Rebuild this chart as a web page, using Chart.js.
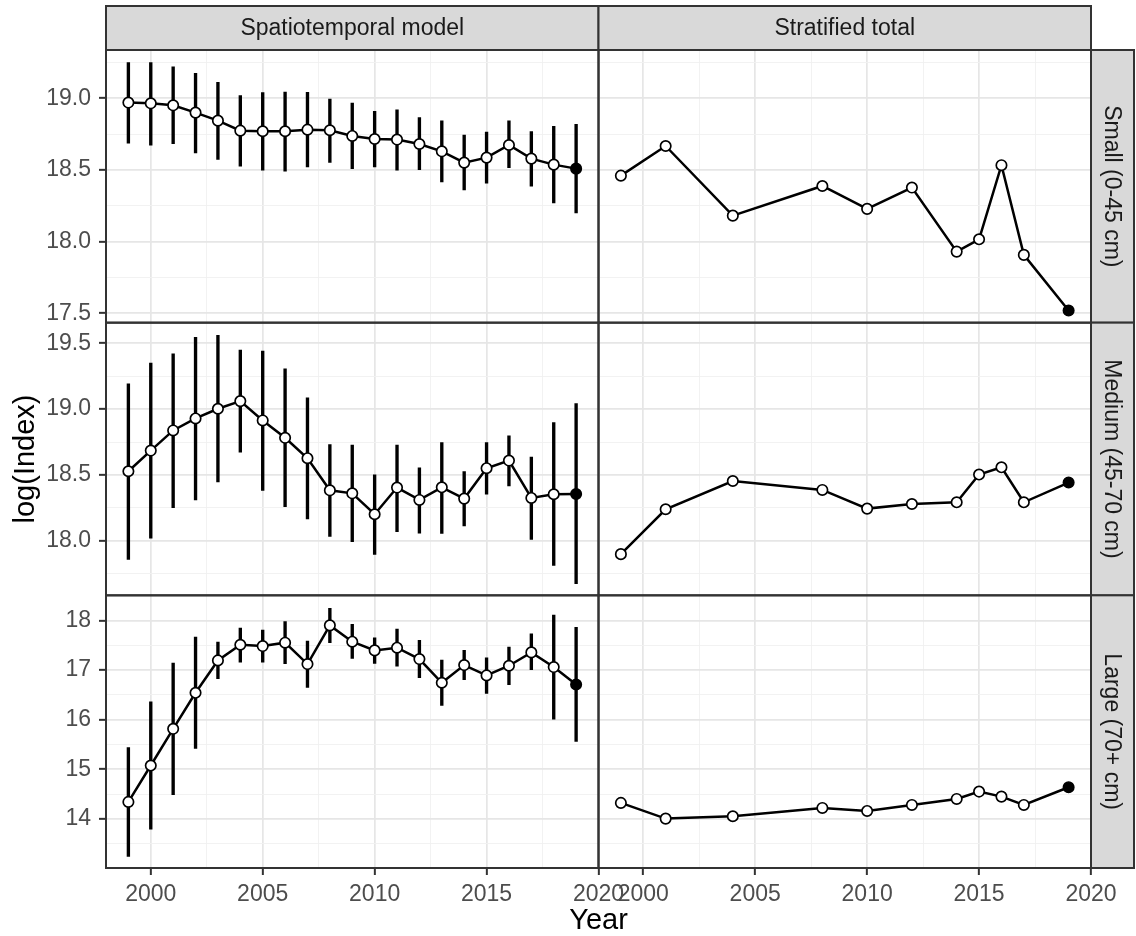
<!DOCTYPE html>
<html>
<head>
<meta charset="utf-8">
<title>log(Index) by size class</title>
<script src="https://cdn.jsdelivr.net/npm/chart.js@4.4.0/dist/chart.umd.min.js"></script>
<style>
body { margin: 0; background: #fff; }
#chart { display: block; }
</style>
</head>
<body>
<canvas id="chart" width="1136" height="936"></canvas>
<script>
//---------------- data -----------------
const stYears = [1999, 2000, 2001, 2002, 2003, 2004, 2005, 2006, 2007, 2008, 2009,
                 2010, 2011, 2012, 2013, 2014, 2015, 2016, 2017, 2018, 2019];
const totalYears = [1999, 2001, 2004, 2008, 2010, 2012, 2014, 2015, 2016, 2017, 2019];

// Small (0-45 cm)
const smallEst = [18.970, 18.965, 18.951, 18.900, 18.844, 18.774, 18.770, 18.770, 18.781, 18.777, 18.737,
                  18.716, 18.712, 18.681, 18.630, 18.551, 18.586, 18.674, 18.579, 18.537, 18.509];
const smallLo  = [18.686, 18.672, 18.684, 18.619, 18.574, 18.526, 18.498, 18.491, 18.521, 18.553, 18.509,
                  18.521, 18.498, 18.502, 18.416, 18.360, 18.407, 18.516, 18.386, 18.270, 18.200];
const smallHi  = [19.249, 19.249, 19.219, 19.174, 19.112, 19.019, 19.040, 19.044, 19.042, 18.995, 18.967,
                  18.909, 18.919, 18.865, 18.842, 18.744, 18.765, 18.842, 18.767, 18.805, 18.819];
const smallTotal = [18.460, 18.667, 18.181, 18.388, 18.228, 18.377, 17.930, 18.016, 18.533, 17.907, 17.519];

// Medium (45-70 cm)
const mediumEst = [18.528, 18.685, 18.838, 18.929, 19.003, 19.061, 18.914, 18.782, 18.627, 18.383, 18.360,
                   18.201, 18.404, 18.310, 18.406, 18.320, 18.551, 18.609, 18.325, 18.353, 18.355];
const mediumLo  = [17.858, 18.020, 18.251, 18.310, 18.447, 18.673, 18.383, 18.259, 18.165, 18.033, 17.992,
                   17.896, 18.069, 18.058, 18.056, 18.112, 18.353, 18.416, 18.010, 17.812, 17.673];
const mediumHi  = [19.193, 19.350, 19.421, 19.546, 19.561, 19.449, 19.442, 19.307, 19.086, 18.731, 18.726,
                   18.500, 18.726, 18.553, 18.746, 18.525, 18.746, 18.797, 18.635, 18.898, 19.043];
const mediumTotal = [17.898, 18.239, 18.454, 18.386, 18.244, 18.279, 18.292, 18.503, 18.558, 18.292, 18.442];

// Large (70+ cm)
const largeEst = [14.343, 15.076, 15.815, 16.541, 17.193, 17.509, 17.482, 17.550, 17.119, 17.899, 17.570,
                  17.395, 17.449, 17.220, 16.743, 17.099, 16.891, 17.086, 17.355, 17.059, 16.709];
const largeLo  = [13.247, 13.792, 14.491, 15.419, 16.824, 17.160, 17.160, 17.126, 16.649, 17.550, 17.234,
                  17.133, 17.079, 16.844, 16.286, 16.803, 16.528, 16.703, 17.005, 16.010, 15.560];
const largeHi  = [15.439, 16.360, 17.139, 17.664, 17.563, 17.845, 17.805, 17.973, 17.583, 18.242, 17.919,
                  17.650, 17.825, 17.597, 17.200, 17.395, 17.247, 17.462, 17.731, 18.108, 17.859];
const largeTotal = [14.323, 14.007, 14.054, 14.222, 14.161, 14.282, 14.403, 14.551, 14.450, 14.282, 14.639];

//---------------- ticks / labels -----------------
const yearTicks = [2000, 2005, 2010, 2015, 2020];
const yearMinor = [2002.5, 2007.5, 2012.5, 2017.5];
const smallTicks = [17.5, 18.0, 18.5, 19.0];
const smallMinor = [17.75, 18.25, 18.75, 19.25];
const mediumTicks = [18.0, 18.5, 19.0, 19.5];
const mediumMinor = [17.75, 18.25, 18.75, 19.25];
const largeTicks = [14, 15, 16, 17, 18];
const largeMinor = [13.5, 14.5, 15.5, 16.5, 17.5];

const colLabels = ['Spatiotemporal model', 'Stratified total'];
const rowLabels = ['Small (0-45 cm)', 'Medium (45-70 cm)', 'Large (70+ cm)'];

const FONT = '"Liberation Sans", Arial, Helvetica, sans-serif';
const tickFont = { family: FONT, size: 23 };

function isIn(list, ctx) {
    return !!(ctx.tick && list.indexOf(ctx.tick.value) >= 0);
}

function gridOpts(major) {
    return {
        color: function(ctx) { return isIn(major, ctx) ? '#e6e6e6' : '#f0f0f0'; },
        lineWidth: function(ctx) { return isIn(major, ctx) ? 1.7 : 0.9; },
        tickLength: 7,
        tickWidth: 2,
        tickColor: function(ctx) { return isIn(major, ctx) ? '#333333' : 'rgba(0,0,0,0)'; },
        offset: false
    };
}

function xAxis(weight) {
    return {
        type: 'linear', position: 'bottom', stack: 'cols', stackWeight: 1, weight: weight,
        min: 1998, max: 2020, offset: false,
        afterBuildTicks: function(scale) {
            scale.ticks = yearTicks.concat(yearMinor).sort(function(a, b) { return a - b; })
                .map(function(v) { return { value: v }; });
        },
        afterFit: function(scale) { scale.height = 68; },
        ticks: {
            autoSkip: false, maxRotation: 0, padding: 6, color: '#4d4d4d', font: tickFont,
            callback: function(v) { return yearTicks.indexOf(v) >= 0 ? String(v) : ''; }
        },
        grid: gridOpts(yearTicks),
        border: { display: false }
    };
}

function yAxis(weight, min, max, major, minor, digits) {
    return {
        type: 'linear', position: 'left', stack: 'rows', stackWeight: 1, weight: weight,
        min: min, max: max,
        afterBuildTicks: function(scale) {
            scale.ticks = major.concat(minor).sort(function(a, b) { return a - b; })
                .map(function(v) { return { value: v }; });
        },
        afterFit: function(scale) { scale.width = 106; },
        ticks: {
            autoSkip: false, padding: 8, color: '#4d4d4d', font: tickFont,
            callback: function(v) { return major.indexOf(v) >= 0 ? v.toFixed(digits) : ''; }
        },
        grid: gridOpts(major),
        border: { display: false }
    };
}

function lineSet(years, values, xId, yId) {
    return {
        type: 'line',
        data: years.map(function(yr, i) { return { x: yr, y: values[i] }; }),
        xAxisID: xId, yAxisID: yId,
        borderColor: '#000', borderWidth: 2.5, tension: 0, fill: false,
        pointRadius: 5.2, pointBorderWidth: 1.7, pointBorderColor: '#000',
        pointBackgroundColor: function(ctx) {
            return ctx.dataIndex === values.length - 1 ? '#000' : '#fff';
        },
        order: 0
    };
}

function rangeSet(years, lo, hi, yId) {
    return {
        type: 'bar',
        data: years.map(function(yr, i) { return { x: yr, y: [lo[i], hi[i]] }; }),
        xAxisID: 'xST', yAxisID: yId,
        backgroundColor: '#000', borderWidth: 0,
        barThickness: 2.7, grouped: false,
        order: 1
    };
}

//-------- strips, panel borders, axis titles ---------
const facetPlugin = {
    id: 'facets',
    afterDraw: function(chart) {
        const ctx = chart.ctx;
        const cols = [chart.scales.xST, chart.scales.xSR];
        const rows = [chart.scales.ySmall, chart.scales.yMed, chart.scales.yLarge];
        const area = chart.chartArea;
        ctx.save();
        ctx.strokeStyle = '#333333';
        ctx.lineWidth = 2;
        cols.forEach(function(c) {
            rows.forEach(function(r) {
                ctx.strokeRect(c.left, r.top, c.right - c.left, r.bottom - r.top);
            });
        });
        // top strips
        ctx.font = '23px ' + FONT;
        ctx.textAlign = 'center';
        ctx.textBaseline = 'middle';
        const stripTop = 6;
        cols.forEach(function(c, i) {
            ctx.fillStyle = '#d9d9d9';
            ctx.fillRect(c.left, stripTop, c.right - c.left, area.top - stripTop);
            ctx.strokeRect(c.left, stripTop, c.right - c.left, area.top - stripTop);
            ctx.fillStyle = '#1a1a1a';
            ctx.fillText(colLabels[i], (c.left + c.right) / 2, (stripTop + area.top) / 2 + 1);
        });
        // right strips
        const stripRight = chart.width - 2;
        rows.forEach(function(r, i) {
            ctx.fillStyle = '#d9d9d9';
            ctx.fillRect(area.right, r.top, stripRight - area.right, r.bottom - r.top);
            ctx.strokeRect(area.right, r.top, stripRight - area.right, r.bottom - r.top);
            ctx.save();
            ctx.translate((area.right + stripRight) / 2 - 1, (r.top + r.bottom) / 2);
            ctx.rotate(Math.PI / 2);
            ctx.fillStyle = '#1a1a1a';
            ctx.fillText(rowLabels[i], 0, 0);
            ctx.restore();
        });
        // axis titles
        ctx.fillStyle = '#000';
        ctx.font = '29px ' + FONT;
        ctx.fillText('Year', (area.left + area.right) / 2, 921);
        ctx.save();
        ctx.translate(26, (area.top + area.bottom) / 2);
        ctx.rotate(-Math.PI / 2);
        ctx.fillText('log(Index)', 0, 0);
        ctx.restore();
        ctx.restore();
    }
};

const chartInstance = new Chart(document.getElementById('chart'), {
    type: 'line',
    data: {
        datasets: [
            lineSet(stYears, smallEst, 'xST', 'ySmall'),
            lineSet(stYears, mediumEst, 'xST', 'yMed'),
            lineSet(stYears, largeEst, 'xST', 'yLarge'),
            lineSet(totalYears, smallTotal, 'xSR', 'ySmall'),
            lineSet(totalYears, mediumTotal, 'xSR', 'yMed'),
            lineSet(totalYears, largeTotal, 'xSR', 'yLarge'),
            rangeSet(stYears, smallLo, smallHi, 'ySmall'),
            rangeSet(stYears, mediumLo, mediumHi, 'yMed'),
            rangeSet(stYears, largeLo, largeHi, 'yLarge')
        ]
    },
    options: {
        responsive: false,
        animation: false,
        devicePixelRatio: 1,
        layout: { padding: { top: 50, right: 45, left: 0, bottom: 0 } },
        plugins: { legend: { display: false }, tooltip: { enabled: false } },
        scales: {
            xST: xAxis(1),
            xSR: xAxis(2),
            ySmall: yAxis(3, 17.434, 19.337, smallTicks, smallMinor, 1),
            yMed: yAxis(2, 17.585, 19.657, mediumTicks, mediumMinor, 1),
            yLarge: yAxis(1, 13.012, 18.504, largeTicks, largeMinor, 0)
        }
    },
    plugins: [facetPlugin]
});
</script>
</body>
</html>
